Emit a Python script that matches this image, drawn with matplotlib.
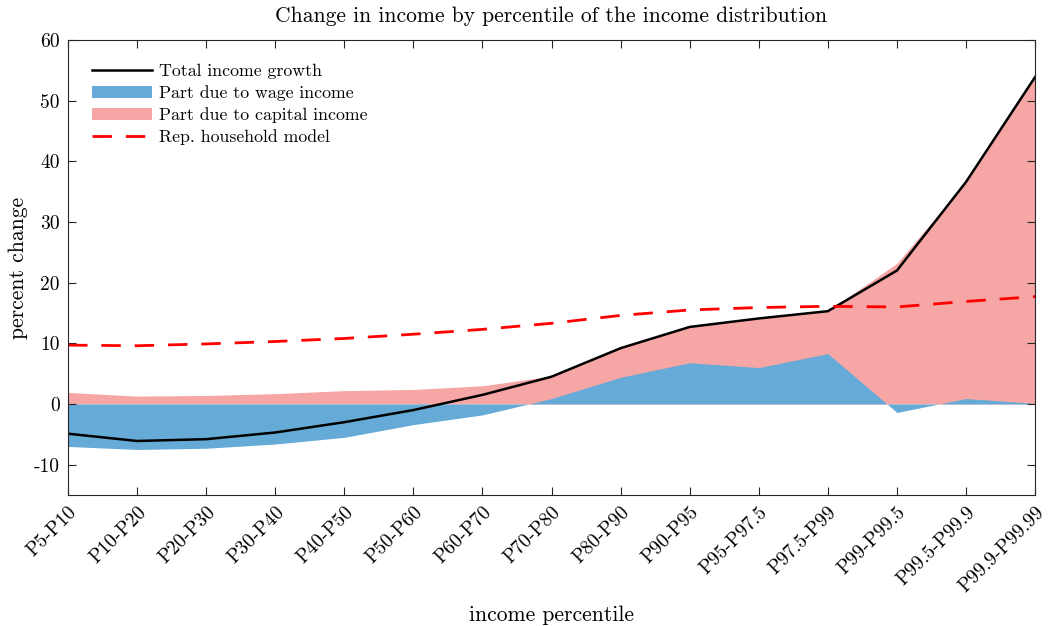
import matplotlib
matplotlib.use('Agg')
import matplotlib.pyplot as plt
import numpy as np

plt.rcParams['font.family'] = 'serif'
plt.rcParams['font.serif'] = ['cmr10']
plt.rcParams['axes.unicode_minus'] = False
plt.rcParams['mathtext.fontset'] = 'cm'

# income groups
groups = ['P5-P10', 'P10-P20', 'P20-P30', 'P30-P40', 'P40-P50', 'P50-P60',
          'P60-P70', 'P70-P80', 'P80-P90', 'P90-P95', 'P95-P97.5',
          'P97.5-P99', 'P99-P99.5', 'P99.5-P99.9', 'P99.9-P99.99']

total = [-4.9, -6.1, -5.8, -4.7, -3.0, -1.0, 1.5, 4.5, 9.2, 12.7, 14.1, 15.3, 22.0, 36.6, 53.9]
wage = [-7.0, -7.5, -7.3, -6.6, -5.5, -3.4, -1.8, 0.9, 4.4, 6.8, 6.0, 8.3, -1.4, 0.9, 0.1]
capital = [1.9, 1.3, 1.4, 1.7, 2.2, 2.4, 3.0, 3.7, 4.8, 5.9, 8.1, 7.0, 23.2, 35.7, 53.8]
rep_model = [9.7, 9.6, 9.9, 10.3, 10.8, 11.5, 12.3, 13.3, 14.6, 15.5, 15.9, 16.1, 16.0, 16.9, 17.7]

blue = '#66aad7'
pink = '#f6a6a4'

x = np.arange(len(groups))
wage = np.array(wage)
capital = np.array(capital)
cap_top = np.maximum(wage, 0) + capital

fig = plt.figure(figsize=(10.53, 6.26), dpi=100)
ax = fig.add_axes([0.0646, 0.2093, 0.9184, 0.7268])

ax.fill_between(x, 0, cap_top, color=pink, lw=0, label='Part due to capital income')
ax.fill_between(x, 0, wage, color=blue, lw=0, label='Part due to wage income')
ax.plot(x, total, color='black', lw=1.8, label='Total income growth')
ax.plot(x, rep_model, color='red', lw=2, dashes=(7, 5), label='Rep. household model')

ax.set_xlim(0, len(groups) - 1)
ax.set_ylim(-15, 60)
ax.set_yticks(np.arange(-10, 61, 10))
ax.set_yticklabels([str(v) for v in range(-10, 61, 10)])
ax.set_xticks(x)
ax.set_xticklabels(groups, rotation=45, ha='right', rotation_mode='anchor')
ax.tick_params(direction='in', length=6, top=True, right=True, labelsize=14,
               color='#262626', pad=6)
for s in ax.spines.values():
    s.set_color('#262626')
    s.set_linewidth(0.8)

ax.set_title('Change in income by percentile of the income distribution', fontsize=15.5, pad=13)
ax.set_xlabel('income percentile', fontsize=15.5, labelpad=7)
ax.set_ylabel('percent change', fontsize=15.5, labelpad=4)

h, l = ax.get_legend_handles_labels()
order = [2, 1, 0, 3]
ax.legend([h[i] for i in order], [l[i] for i in order], loc='upper left',
          frameon=False, fontsize=12.8, handlelength=3.4, handletextpad=0.35,
          labelspacing=0.34, borderaxespad=0.95)

fig.savefig('out.png', dpi=100)
